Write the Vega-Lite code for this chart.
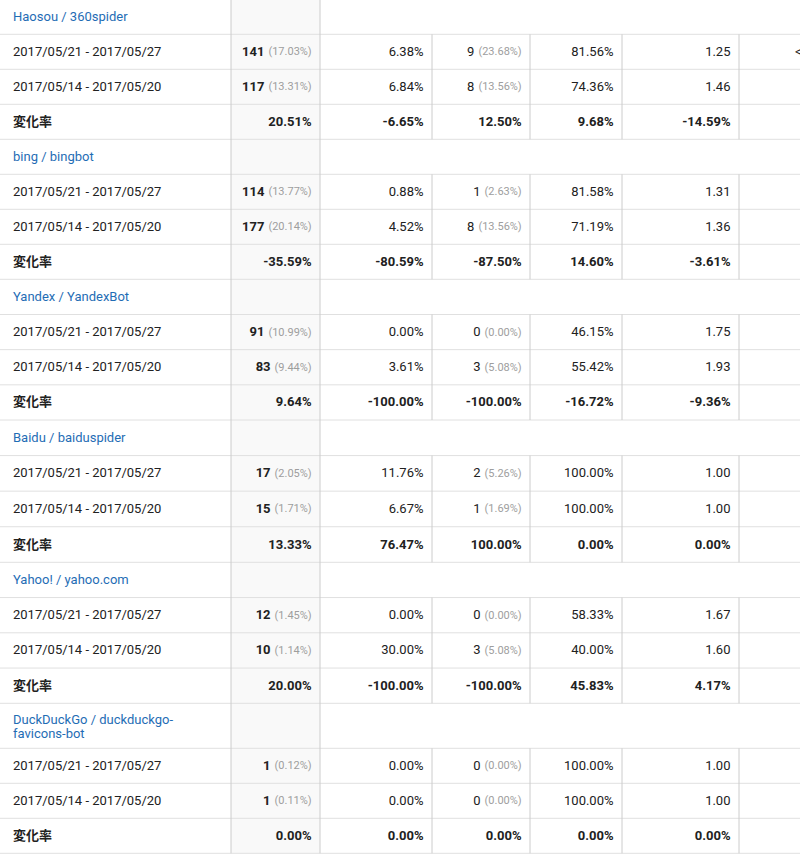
{
  "$schema": "https://vega.github.io/schema/vega-lite/v6.json",
  "width": 800,
  "height": 855,
  "padding": 0,
  "autosize": {"type": "none"},
  "background": "white",
  "config": {"view": {"stroke": null}, "text": {"font": "Roboto, 'Noto Sans CJK JP', sans-serif"}},
  "datasets": {
    "hl": [{"b":0.5},{"b":1.5},{"b":2.5},{"b":3.5},{"b":4.5},{"b":5.5},{"b":6.5},{"b":7.5},{"b":8.5},{"b":9.5},{"b":10.5},{"b":11.5},{"b":12.5},{"b":13.5},{"b":14.5},{"b":15.5},{"b":16.5},{"b":17.5},{"b":18.5},{"b":19.5},{"b":20.5},{"b":21.5},{"b":22.5},{"b":23.5}],
    "vl": [
      {"b":0,"y1":-0.5,"y2":23.5},{"b":1,"y1":-0.5,"y2":23.5},
      {"b":2,"y1":0.5,"y2":3.5},{"b":3,"y1":0.5,"y2":3.5},{"b":4,"y1":0.5,"y2":3.5},{"b":5,"y1":0.5,"y2":3.5},
      {"b":2,"y1":4.5,"y2":7.5},{"b":3,"y1":4.5,"y2":7.5},{"b":4,"y1":4.5,"y2":7.5},{"b":5,"y1":4.5,"y2":7.5},
      {"b":2,"y1":8.5,"y2":11.5},{"b":3,"y1":8.5,"y2":11.5},{"b":4,"y1":8.5,"y2":11.5},{"b":5,"y1":8.5,"y2":11.5},
      {"b":2,"y1":12.5,"y2":15.5},{"b":3,"y1":12.5,"y2":15.5},{"b":4,"y1":12.5,"y2":15.5},{"b":5,"y1":12.5,"y2":15.5},
      {"b":2,"y1":16.5,"y2":19.5},{"b":3,"y1":16.5,"y2":19.5},{"b":4,"y1":16.5,"y2":19.5},{"b":5,"y1":16.5,"y2":19.5},
      {"b":2,"y1":20.5,"y2":23.5},{"b":3,"y1":20.5,"y2":23.5},{"b":4,"y1":20.5,"y2":23.5},{"b":5,"y1":20.5,"y2":23.5}
    ],
    "cells": [
      {"r":0,"c":0,"kind":"header","t":"Haosou / 360spider"},
      {"r":1,"c":0,"kind":"date","t":"2017/05/21 - 2017/05/27"},
      {"r":1,"c":1,"kind":"date","t":"141","s":"(17.03%)"},
      {"r":1,"c":2,"kind":"date","t":"6.38%"},
      {"r":1,"c":3,"kind":"date","t":"9","s":"(23.68%)"},
      {"r":1,"c":4,"kind":"date","t":"81.56%"},
      {"r":1,"c":5,"kind":"date","t":"1.25"},
      {"r":1,"c":6,"kind":"date","t":"<"},
      {"r":2,"c":0,"kind":"date","t":"2017/05/14 - 2017/05/20"},
      {"r":2,"c":1,"kind":"date","t":"117","s":"(13.31%)"},
      {"r":2,"c":2,"kind":"date","t":"6.84%"},
      {"r":2,"c":3,"kind":"date","t":"8","s":"(13.56%)"},
      {"r":2,"c":4,"kind":"date","t":"74.36%"},
      {"r":2,"c":5,"kind":"date","t":"1.46"},
      {"r":3,"c":0,"kind":"change","t":"変化率"},
      {"r":3,"c":1,"kind":"change","t":"20.51%"},
      {"r":3,"c":2,"kind":"change","t":"-6.65%"},
      {"r":3,"c":3,"kind":"change","t":"12.50%"},
      {"r":3,"c":4,"kind":"change","t":"9.68%"},
      {"r":3,"c":5,"kind":"change","t":"-14.59%"},

      {"r":4,"c":0,"kind":"header","t":"bing / bingbot"},
      {"r":5,"c":0,"kind":"date","t":"2017/05/21 - 2017/05/27"},
      {"r":5,"c":1,"kind":"date","t":"114","s":"(13.77%)"},
      {"r":5,"c":2,"kind":"date","t":"0.88%"},
      {"r":5,"c":3,"kind":"date","t":"1","s":"(2.63%)"},
      {"r":5,"c":4,"kind":"date","t":"81.58%"},
      {"r":5,"c":5,"kind":"date","t":"1.31"},
      {"r":6,"c":0,"kind":"date","t":"2017/05/14 - 2017/05/20"},
      {"r":6,"c":1,"kind":"date","t":"177","s":"(20.14%)"},
      {"r":6,"c":2,"kind":"date","t":"4.52%"},
      {"r":6,"c":3,"kind":"date","t":"8","s":"(13.56%)"},
      {"r":6,"c":4,"kind":"date","t":"71.19%"},
      {"r":6,"c":5,"kind":"date","t":"1.36"},
      {"r":7,"c":0,"kind":"change","t":"変化率"},
      {"r":7,"c":1,"kind":"change","t":"-35.59%"},
      {"r":7,"c":2,"kind":"change","t":"-80.59%"},
      {"r":7,"c":3,"kind":"change","t":"-87.50%"},
      {"r":7,"c":4,"kind":"change","t":"14.60%"},
      {"r":7,"c":5,"kind":"change","t":"-3.61%"},

      {"r":8,"c":0,"kind":"header","t":"Yandex / YandexBot"},
      {"r":9,"c":0,"kind":"date","t":"2017/05/21 - 2017/05/27"},
      {"r":9,"c":1,"kind":"date","t":"91","s":"(10.99%)"},
      {"r":9,"c":2,"kind":"date","t":"0.00%"},
      {"r":9,"c":3,"kind":"date","t":"0","s":"(0.00%)"},
      {"r":9,"c":4,"kind":"date","t":"46.15%"},
      {"r":9,"c":5,"kind":"date","t":"1.75"},
      {"r":10,"c":0,"kind":"date","t":"2017/05/14 - 2017/05/20"},
      {"r":10,"c":1,"kind":"date","t":"83","s":"(9.44%)"},
      {"r":10,"c":2,"kind":"date","t":"3.61%"},
      {"r":10,"c":3,"kind":"date","t":"3","s":"(5.08%)"},
      {"r":10,"c":4,"kind":"date","t":"55.42%"},
      {"r":10,"c":5,"kind":"date","t":"1.93"},
      {"r":11,"c":0,"kind":"change","t":"変化率"},
      {"r":11,"c":1,"kind":"change","t":"9.64%"},
      {"r":11,"c":2,"kind":"change","t":"-100.00%"},
      {"r":11,"c":3,"kind":"change","t":"-100.00%"},
      {"r":11,"c":4,"kind":"change","t":"-16.72%"},
      {"r":11,"c":5,"kind":"change","t":"-9.36%"},

      {"r":12,"c":0,"kind":"header","t":"Baidu / baiduspider"},
      {"r":13,"c":0,"kind":"date","t":"2017/05/21 - 2017/05/27"},
      {"r":13,"c":1,"kind":"date","t":"17","s":"(2.05%)"},
      {"r":13,"c":2,"kind":"date","t":"11.76%"},
      {"r":13,"c":3,"kind":"date","t":"2","s":"(5.26%)"},
      {"r":13,"c":4,"kind":"date","t":"100.00%"},
      {"r":13,"c":5,"kind":"date","t":"1.00"},
      {"r":14,"c":0,"kind":"date","t":"2017/05/14 - 2017/05/20"},
      {"r":14,"c":1,"kind":"date","t":"15","s":"(1.71%)"},
      {"r":14,"c":2,"kind":"date","t":"6.67%"},
      {"r":14,"c":3,"kind":"date","t":"1","s":"(1.69%)"},
      {"r":14,"c":4,"kind":"date","t":"100.00%"},
      {"r":14,"c":5,"kind":"date","t":"1.00"},
      {"r":15,"c":0,"kind":"change","t":"変化率"},
      {"r":15,"c":1,"kind":"change","t":"13.33%"},
      {"r":15,"c":2,"kind":"change","t":"76.47%"},
      {"r":15,"c":3,"kind":"change","t":"100.00%"},
      {"r":15,"c":4,"kind":"change","t":"0.00%"},
      {"r":15,"c":5,"kind":"change","t":"0.00%"},

      {"r":16,"c":0,"kind":"header","t":"Yahoo! / yahoo.com"},
      {"r":17,"c":0,"kind":"date","t":"2017/05/21 - 2017/05/27"},
      {"r":17,"c":1,"kind":"date","t":"12","s":"(1.45%)"},
      {"r":17,"c":2,"kind":"date","t":"0.00%"},
      {"r":17,"c":3,"kind":"date","t":"0","s":"(0.00%)"},
      {"r":17,"c":4,"kind":"date","t":"58.33%"},
      {"r":17,"c":5,"kind":"date","t":"1.67"},
      {"r":18,"c":0,"kind":"date","t":"2017/05/14 - 2017/05/20"},
      {"r":18,"c":1,"kind":"date","t":"10","s":"(1.14%)"},
      {"r":18,"c":2,"kind":"date","t":"30.00%"},
      {"r":18,"c":3,"kind":"date","t":"3","s":"(5.08%)"},
      {"r":18,"c":4,"kind":"date","t":"40.00%"},
      {"r":18,"c":5,"kind":"date","t":"1.60"},
      {"r":19,"c":0,"kind":"change","t":"変化率"},
      {"r":19,"c":1,"kind":"change","t":"20.00%"},
      {"r":19,"c":2,"kind":"change","t":"-100.00%"},
      {"r":19,"c":3,"kind":"change","t":"-100.00%"},
      {"r":19,"c":4,"kind":"change","t":"45.83%"},
      {"r":19,"c":5,"kind":"change","t":"4.17%"},

      {"r":20,"c":0,"kind":"header","t":["DuckDuckGo / duckduckgo-","favicons-bot"]},
      {"r":21,"c":0,"kind":"date","t":"2017/05/21 - 2017/05/27"},
      {"r":21,"c":1,"kind":"date","t":"1","s":"(0.12%)"},
      {"r":21,"c":2,"kind":"date","t":"0.00%"},
      {"r":21,"c":3,"kind":"date","t":"0","s":"(0.00%)"},
      {"r":21,"c":4,"kind":"date","t":"100.00%"},
      {"r":21,"c":5,"kind":"date","t":"1.00"},
      {"r":22,"c":0,"kind":"date","t":"2017/05/14 - 2017/05/20"},
      {"r":22,"c":1,"kind":"date","t":"1","s":"(0.11%)"},
      {"r":22,"c":2,"kind":"date","t":"0.00%"},
      {"r":22,"c":3,"kind":"date","t":"0","s":"(0.00%)"},
      {"r":22,"c":4,"kind":"date","t":"100.00%"},
      {"r":22,"c":5,"kind":"date","t":"1.00"},
      {"r":23,"c":0,"kind":"change","t":"変化率"},
      {"r":23,"c":1,"kind":"change","t":"0.00%"},
      {"r":23,"c":2,"kind":"change","t":"0.00%"},
      {"r":23,"c":3,"kind":"change","t":"0.00%"},
      {"r":23,"c":4,"kind":"change","t":"0.00%"},
      {"r":23,"c":5,"kind":"change","t":"0.00%"}
    ]
  },
  "layer": [
    {
      "data": {"values": [{"a": 1}]},
      "mark": {"type": "rect", "fill": "#f9f9f9"},
      "encoding": {
        "x": {"datum": 0, "type": "quantitative", "axis": null, "scale": {"domain": [-1,0,1,2,3,4,5,6], "range": [0,231,320,432,530,622,739,856], "zero": false, "nice": false}},
        "x2": {"datum": 1},
        "y": {"datum": -0.5, "type": "quantitative", "axis": null, "scale": {"domain": [-0.5,7.5,11.5,15.5,19.5,20.5,23.5], "range": [-0.7,279.3,420,562.3,703.3,748.3,853.3], "zero": false, "nice": false}},
        "y2": {"datum": 23.5}
      }
    },
    {
      "data": {"name": "hl"},
      "mark": {"type": "rule", "stroke": "#e0e0e0", "strokeWidth": 1},
      "encoding": {
        "y": {"field": "b", "type": "quantitative", "axis": null}
      }
    },
    {
      "data": {"name": "vl"},
      "mark": {"type": "rule", "stroke": "#cccccc", "strokeWidth": 1},
      "encoding": {
        "x": {"field": "b", "type": "quantitative", "axis": null},
        "y": {"field": "y1", "type": "quantitative", "axis": null},
        "y2": {"field": "y2"}
      }
    },
    {
      "data": {"name": "cells"},
      "transform": [{"filter": "datum.c == 0 && datum.kind == 'header'"}],
      "mark": {"type": "text", "align": "left", "baseline": "middle", "dx": 13, "fontSize": 13, "lineHeight": 14, "fill": "#1f6db5",
               "dy": {"expr": "isArray(datum.t) ? -6 : 0"}},
      "encoding": {
        "x": {"datum": -1, "type": "quantitative", "axis": null},
        "y": {"field": "r", "type": "quantitative", "axis": null},
        "text": {"field": "t"}
      }
    },
    {
      "data": {"name": "cells"},
      "transform": [{"filter": "datum.c == 0 && datum.kind == 'date'"}],
      "mark": {"type": "text", "align": "left", "baseline": "middle", "dx": 13, "fontSize": 13, "fill": "#212121"},
      "encoding": {
        "x": {"datum": -1, "type": "quantitative", "axis": null},
        "y": {"field": "r", "type": "quantitative", "axis": null},
        "text": {"field": "t"}
      }
    },
    {
      "data": {"name": "cells"},
      "transform": [{"filter": "datum.c == 0 && datum.kind == 'change'"}],
      "mark": {"type": "text", "align": "left", "baseline": "middle", "dx": 13, "fontSize": 13, "fontWeight": "bold", "fill": "#212121"},
      "encoding": {
        "x": {"datum": -1, "type": "quantitative", "axis": null},
        "y": {"field": "r", "type": "quantitative", "axis": null},
        "text": {"field": "t"}
      }
    },
    {
      "data": {"name": "cells"},
      "transform": [{"filter": "datum.c >= 1 && datum.c <= 5 && (datum.c == 1 || datum.kind == 'change')"}],
      "mark": {"type": "text", "align": "right", "baseline": "middle", "fontSize": 13, "fontWeight": "bold", "fill": "#212121",
               "dx": {"expr": "isValid(datum.s) ? -12.5 - (18.4 + 6.18 * (length(datum.s) - 4)) : -8.5"}},
      "encoding": {
        "x": {"field": "c", "type": "quantitative", "axis": null},
        "y": {"field": "r", "type": "quantitative", "axis": null},
        "text": {"field": "t"}
      }
    },
    {
      "data": {"name": "cells"},
      "transform": [{"filter": "datum.c >= 2 && datum.c <= 5 && datum.kind == 'date'"}],
      "mark": {"type": "text", "align": "right", "baseline": "middle", "fontSize": 13, "fill": "#212121",
               "dx": {"expr": "isValid(datum.s) ? -12.5 - (18.4 + 6.18 * (length(datum.s) - 4)) : -8.5"}},
      "encoding": {
        "x": {"field": "c", "type": "quantitative", "axis": null},
        "y": {"field": "r", "type": "quantitative", "axis": null},
        "text": {"field": "t"}
      }
    },
    {
      "data": {"name": "cells"},
      "transform": [{"filter": "isValid(datum.s)"}],
      "mark": {"type": "text", "align": "right", "baseline": "middle", "dx": -8.3, "dy": 0.5, "fontSize": 11, "fill": "#9e9e9e"},
      "encoding": {
        "x": {"field": "c", "type": "quantitative", "axis": null},
        "y": {"field": "r", "type": "quantitative", "axis": null},
        "text": {"field": "s"}
      }
    },
    {
      "data": {"name": "cells"},
      "transform": [{"filter": "datum.c == 6"}],
      "mark": {"type": "text", "align": "left", "baseline": "middle", "dx": -61, "fontSize": 13, "fill": "#212121"},
      "encoding": {
        "x": {"field": "c", "type": "quantitative", "axis": null},
        "y": {"field": "r", "type": "quantitative", "axis": null},
        "text": {"field": "t"}
      }
    }
  ]
}
